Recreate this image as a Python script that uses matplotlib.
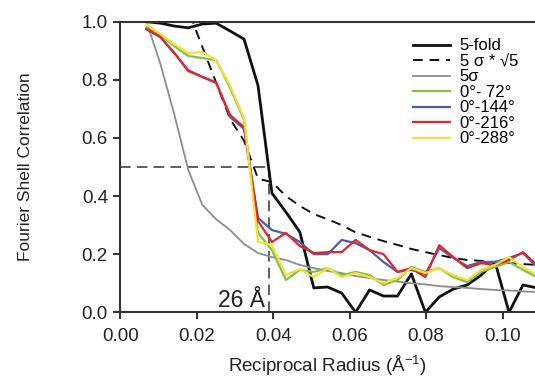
import matplotlib
matplotlib.use("Agg")
import matplotlib.pyplot as plt

plt.rcParams['font.family'] = ['Liberation Sans', 'DejaVu Sans']

# reciprocal radius sampling (1/A)
radius = [0.0068, 0.01045, 0.0141, 0.01775, 0.0214, 0.02505, 0.0287, 0.03235,
          0.0360, 0.03965, 0.0433, 0.04695, 0.0506, 0.05425, 0.0579, 0.06155,
          0.0652, 0.06885, 0.0725, 0.07615, 0.0798, 0.08345, 0.0871, 0.09075,
          0.0944, 0.09805, 0.1017, 0.10535, 0.1090]

fold5 = [1.0, 0.995, 0.985, 0.979, 0.992, 0.995, 0.968, 0.94, 0.78, 0.41,
         0.345, 0.276, 0.084, 0.087, 0.066, 0.0, 0.077, 0.056, 0.056, 0.132,
         0.0, 0.053, 0.08, 0.094, 0.128, 0.173, 0.0, 0.094, 0.084]

sigma_sqrt5 = [1.7, 1.4, 1.18, 1.04, 0.914, 0.79, 0.665, 0.59, 0.46, 0.448,
               0.40, 0.366, 0.338, 0.32, 0.30, 0.275, 0.26, 0.245, 0.232, 0.218,
               0.207, 0.197, 0.187, 0.18, 0.177, 0.173, 0.17, 0.166, 0.163]

sigma5 = [1.0, 0.855, 0.68, 0.49, 0.37, 0.32, 0.283, 0.235, 0.204, 0.19,
          0.18, 0.163, 0.152, 0.142, 0.135, 0.125, 0.118, 0.111, 0.106, 0.10,
          0.096, 0.09, 0.087, 0.084, 0.08, 0.077, 0.075, 0.072, 0.07]

rot72 = [0.98, 0.954, 0.916, 0.882, 0.875, 0.868, 0.772, 0.662, 0.273, 0.214,
         0.111, 0.146, 0.139, 0.152, 0.128, 0.139, 0.128, 0.094, 0.111, 0.156,
         0.139, 0.152, 0.121, 0.104, 0.139, 0.156, 0.173, 0.146, 0.121]

rot144 = [0.975, 0.947, 0.892, 0.833, 0.81, 0.792, 0.672, 0.631, 0.325, 0.283,
          0.27, 0.242, 0.2, 0.2, 0.249, 0.238, 0.214, 0.173, 0.139, 0.146,
          0.132, 0.221, 0.187, 0.159, 0.173, 0.173, 0.187, 0.204, 0.156]

rot216 = [0.975, 0.947, 0.892, 0.83, 0.81, 0.789, 0.679, 0.637, 0.314, 0.242,
          0.273, 0.228, 0.204, 0.207, 0.207, 0.249, 0.214, 0.2, 0.139, 0.152,
          0.121, 0.231, 0.19, 0.152, 0.169, 0.163, 0.18, 0.207, 0.163]

rot288 = [0.99, 0.958, 0.922, 0.892, 0.896, 0.868, 0.78, 0.668, 0.242, 0.232,
          0.128, 0.149, 0.121, 0.152, 0.121, 0.135, 0.121, 0.101, 0.118, 0.152,
          0.135, 0.152, 0.128, 0.111, 0.146, 0.163, 0.19, 0.156, 0.128]

cutoff = 0.039  # 26 A

fig = plt.figure(figsize=(5.35, 3.77), dpi=100)
ax = fig.add_axes([0.2252, 0.1716, 0.7748, 0.7708])

ax.plot([0, cutoff], [0.5, 0.5], color='#333333', lw=1.1, dashes=(7, 4))
ax.plot([cutoff, cutoff], [0, 0.5], color='#333333', lw=1.1, dashes=(7, 4))

ax.plot(radius, fold5, color='#111111', lw=2.0, label='5-fold')
ax.plot(radius, sigma_sqrt5, color='#111111', lw=1.4, dashes=(5, 3.5), label='5 σ * √5')
ax.plot(radius, sigma5, color='#8c8c8c', lw=1.3, label='5σ')
ax.plot(radius, rot72, color='#86c13f', lw=1.6, label='0°- 72°')
ax.plot(radius, rot144, color='#4a5fa8', lw=1.6, label='0°-144°')
ax.plot(radius, rot216, color='#e2262a', lw=1.6, label='0°-216°')
ax.plot(radius, rot288, color='#f2e03c', lw=1.6, label='0°-288°')

ax.text(0.0378, 0.018, '26 Å', ha='right', va='baseline', fontsize=16.5, color='#222222')

ax.set_xlim(0, 0.1085)
ax.set_ylim(0, 1.0)
ax.set_xticks([0.0, 0.02, 0.04, 0.06, 0.08, 0.10])
ax.set_xticklabels(['0.00', '0.02', '0.04', '0.06', '0.08', '0.10'])
ax.set_yticks([0.0, 0.2, 0.4, 0.6, 0.8, 1.0])
ax.set_yticklabels(['0.0', '0.2', '0.4', '0.6', '0.8', '1.0'])
ax.tick_params(direction='out', length=5, width=1.3, labelsize=13.5, colors='#222222', pad=4)
ax.tick_params(axis='x', pad=6)

for side in ['left', 'bottom', 'top']:
    ax.spines[side].set_linewidth(1.5)
    ax.spines[side].set_color('#333333')
ax.spines['right'].set_visible(False)

ax.set_xlabel('Reciprocal Radius (Å$^{\\mathregular{-1}}$)', fontsize=13.5, color='#222222', labelpad=6)
ax.set_ylabel('Fourier Shell Correlation', fontsize=12.5, color='#222222', labelpad=35)

ax.legend(loc='upper left', bbox_to_anchor=(0.772, 0.898), bbox_transform=fig.transFigure,
          frameon=False, fontsize=12, handlelength=2.2, handletextpad=0.6,
          labelspacing=0.03, borderpad=0, borderaxespad=0)

fig.savefig('out.png', dpi=100)
